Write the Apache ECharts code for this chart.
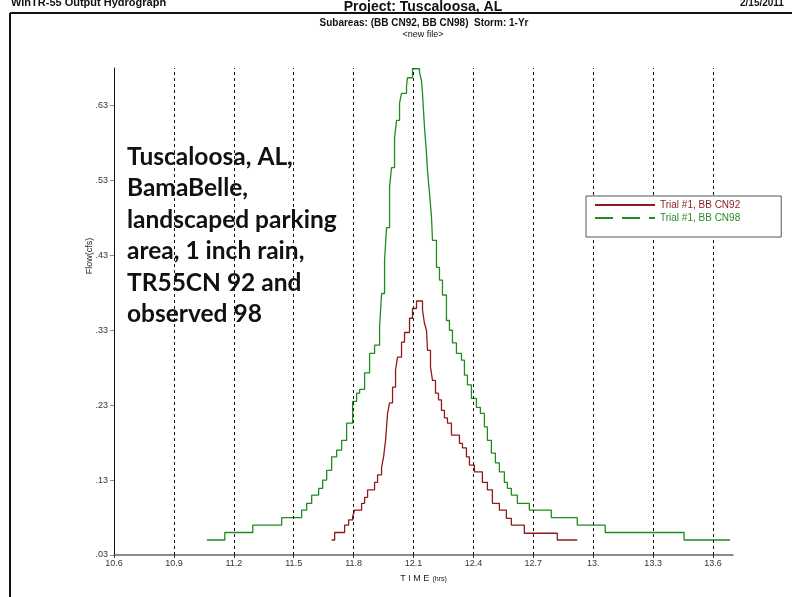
<!DOCTYPE html>
<html>
<head>
<meta charset="utf-8">
<script src="https://cdn.jsdelivr.net/npm/echarts@6/dist/echarts.min.js"></script>
<style>
html,body{margin:0;padding:0;background:#fff;}
#chart{width:792px;height:597px;}
</style>
</head>
<body>
<div id="chart"></div>
<script>
var xTicks = [10.6, 10.9, 11.2, 11.5, 11.8, 12.1, 12.4, 12.7, 13.0, 13.3, 13.6];
var yTicks = [0.03, 0.13, 0.23, 0.33, 0.43, 0.53, 0.63];
var gridTimes = [10.9, 11.2, 11.5, 11.8, 12.1, 12.4, 12.7, 13.0, 13.3, 13.6];

var seriesNames = ['Trial #1, BB CN92', 'Trial #1, BB CN98'];

var redTime = [11.69, 11.705, 11.755, 11.775, 11.795, 11.805, 11.84, 11.855, 11.87, 11.905, 11.92, 11.94, 11.95, 11.96, 11.97, 11.98, 11.995, 12.01, 12.02, 12.04, 12.055, 12.08, 12.095, 12.115, 12.145, 12.155, 12.165, 12.17, 12.185, 12.195, 12.21, 12.225, 12.24, 12.255, 12.27, 12.29, 12.33, 12.345, 12.365, 12.38, 12.405, 12.445, 12.47, 12.495, 12.53, 12.565, 12.59, 12.655, 12.82, 12.92];
var redFlow = [0.05, 0.06, 0.07, 0.077, 0.081, 0.09, 0.099, 0.107, 0.117, 0.127, 0.137, 0.147, 0.161, 0.183, 0.219, 0.233, 0.254, 0.277, 0.294, 0.314, 0.327, 0.346, 0.359, 0.369, 0.357, 0.339, 0.33, 0.303, 0.281, 0.263, 0.246, 0.237, 0.223, 0.213, 0.206, 0.19, 0.179, 0.173, 0.161, 0.15, 0.141, 0.127, 0.117, 0.099, 0.09, 0.079, 0.07, 0.059, 0.05, 0.05];

var greenTime = [11.065, 11.155, 11.295, 11.44, 11.54, 11.565, 11.59, 11.625, 11.645, 11.665, 11.69, 11.715, 11.74, 11.765, 11.795, 11.815, 11.83, 11.855, 11.88, 11.905, 11.93, 11.94, 11.955, 11.965, 11.98, 11.99, 12.005, 12.015, 12.03, 12.04, 12.065, 12.07, 12.095, 12.13, 12.14, 12.145, 12.155, 12.165, 12.17, 12.18, 12.19, 12.195, 12.215, 12.23, 12.245, 12.265, 12.28, 12.295, 12.315, 12.34, 12.355, 12.37, 12.39, 12.415, 12.435, 12.455, 12.47, 12.49, 12.51, 12.53, 12.555, 12.57, 12.59, 12.62, 12.68, 12.79, 12.92, 13.06, 13.455, 13.685];
var greenFlow = [0.05, 0.06, 0.07, 0.08, 0.09, 0.099, 0.11, 0.119, 0.13, 0.143, 0.161, 0.17, 0.183, 0.206, 0.235, 0.246, 0.251, 0.273, 0.299, 0.31, 0.334, 0.379, 0.423, 0.467, 0.521, 0.547, 0.587, 0.61, 0.633, 0.646, 0.657, 0.667, 0.679, 0.674, 0.663, 0.646, 0.601, 0.566, 0.543, 0.513, 0.481, 0.45, 0.414, 0.397, 0.377, 0.343, 0.33, 0.313, 0.299, 0.29, 0.27, 0.257, 0.239, 0.227, 0.219, 0.201, 0.183, 0.166, 0.153, 0.141, 0.127, 0.119, 0.11, 0.099, 0.09, 0.08, 0.07, 0.06, 0.05, 0.05];

function pairs(t, f) { return t.map(function (v, i) { return [v, f[i]]; }); }

var chart = echarts.init(document.getElementById('chart'));
var font = '"Liberation Sans", Arial, sans-serif';
var hiddenSymbol = { color: 'rgba(0,0,0,0)', borderColor: 'rgba(0,0,0,0)', borderWidth: 0, opacity: 0 };

chart.setOption({
  animation: false,
  backgroundColor: '#fff',
  grid: { left: 114, top: 68, right: 59, bottom: 42, containLabel: false },
  xAxis: {
    type: 'value', min: 10.6, max: 13.7,
    name: '{a|T I M E} {b|(hrs)}', nameLocation: 'middle', nameGap: 17,
    nameTextStyle: { rich: { a: { fontSize: 9, color: '#222', fontFamily: font }, b: { fontSize: 7, color: '#222', fontFamily: font } } },
    axisLine: { lineStyle: { color: '#666', width: 1.5 } },
    axisTick: { show: true, length: 3, customValues: xTicks, lineStyle: { color: '#333' } },
    axisLabel: { customValues: xTicks, margin: 4, fontSize: 9, color: '#333', fontFamily: font,
      formatter: function (v) { return Math.abs(v - 13) < 1e-9 ? '13.' : v.toFixed(1); } },
    splitLine: { show: false }
  },
  yAxis: {
    type: 'value', min: 0.03, max: 0.68,
    axisLine: { show: true, lineStyle: { color: '#111', width: 1 } },
    axisTick: { show: true, length: 4, customValues: yTicks, lineStyle: { color: '#9a9a30' } },
    axisLabel: { customValues: yTicks, margin: 6, fontSize: 9, color: '#333', fontFamily: font,
      formatter: function (v) { return v.toFixed(2).replace(/^0/, ''); } },
    splitLine: { show: false }
  },
  legend: {
    show: true, type: 'plain', z: 20, zlevel: 0,
    orient: 'vertical', left: 586, top: 196,
    padding: [4, 41, 14, 8], itemGap: 3, itemWidth: 60, itemHeight: 10,
    backgroundColor: '#fff', borderColor: '#555', borderWidth: 1, borderRadius: 0,
    textStyle: { fontSize: 10, fontFamily: font },
    itemStyle: hiddenSymbol,
    data: [
      { name: seriesNames[0], textStyle: { color: '#8b1a1a' }, itemStyle: hiddenSymbol },
      { name: seriesNames[1], textStyle: { color: '#2a8a2a' }, itemStyle: hiddenSymbol, lineStyle: { type: [18, 9] } }
    ]
  },
  series: [
    {
      name: 'gridlines', type: 'line', data: [], silent: true, symbol: 'none', z: 1,
      markLine: {
        silent: true, symbol: ['none', 'none'], label: { show: false }, animation: false,
        lineStyle: { color: '#111', type: [3, 3], width: 1 },
        data: gridTimes.map(function (t) { return { xAxis: t }; })
      }
    },
    {
      name: seriesNames[0], type: 'line', step: 'end', symbol: 'none', z: 3,
      lineStyle: { color: '#8e1b1b', width: 1.3 }, itemStyle: { color: '#8e1b1b' },
      data: pairs(redTime, redFlow)
    },
    {
      name: seriesNames[1], type: 'line', step: 'end', symbol: 'none', z: 3,
      lineStyle: { color: '#1f8c1f', width: 1.3 }, itemStyle: { color: '#1f8c1f' },
      data: pairs(greenTime, greenFlow)
    }
  ],
  graphic: [
    { type: 'line', shape: { x1: 10, y1: 13, x2: 792, y2: 13 }, style: { stroke: '#111', lineWidth: 2 }, z: 10 },
    { type: 'line', shape: { x1: 10, y1: 13, x2: 10, y2: 597 }, style: { stroke: '#111', lineWidth: 2 }, z: 10 },
    { type: 'text', left: 11, top: -3, z: 11,
      style: { text: 'WinTR-55 Output Hydrograph', font: 'bold 11px ' + font, fill: '#111' } },
    { type: 'text', left: 740, top: -2, z: 11,
      style: { text: '2/15/2011', font: 'bold 10px ' + font, fill: '#111' } },
    { type: 'text', x: 423, y: 0, z: 11,
      style: { text: 'Project: Tuscaloosa, AL', font: 'bold 14px ' + font, fill: '#111', align: 'center', verticalAlign: 'top' } },
    { type: 'text', x: 424, y: 18, z: 11,
      style: { text: 'Subareas: (BB CN92, BB CN98)  Storm: 1-Yr', font: 'bold 10px ' + font, fill: '#111', align: 'center', verticalAlign: 'top' } },
    { type: 'text', x: 423, y: 30, z: 11,
      style: { text: '<new file>', font: '9px ' + font, fill: '#111', align: 'center', verticalAlign: 'top' } },
    { type: 'text', x: 90, y: 256, rotation: Math.PI / 2, z: 11,
      style: { text: 'Flow(cfs)', font: '9px ' + font, fill: '#222', align: 'center', verticalAlign: 'middle' } },
    { type: 'text', left: 127, top: 141, z: 11,
      style: { text: 'Tuscaloosa, AL,\nBamaBelle,\nlandscaped parking\narea, 1 inch rain,\nTR55CN 92 and\nobserved 98',
        font: 'bold 24.5px Lato, "Open Sans", sans-serif', lineHeight: 31.5, fill: '#111' } }
  ]
});
</script>
</body>
</html>
